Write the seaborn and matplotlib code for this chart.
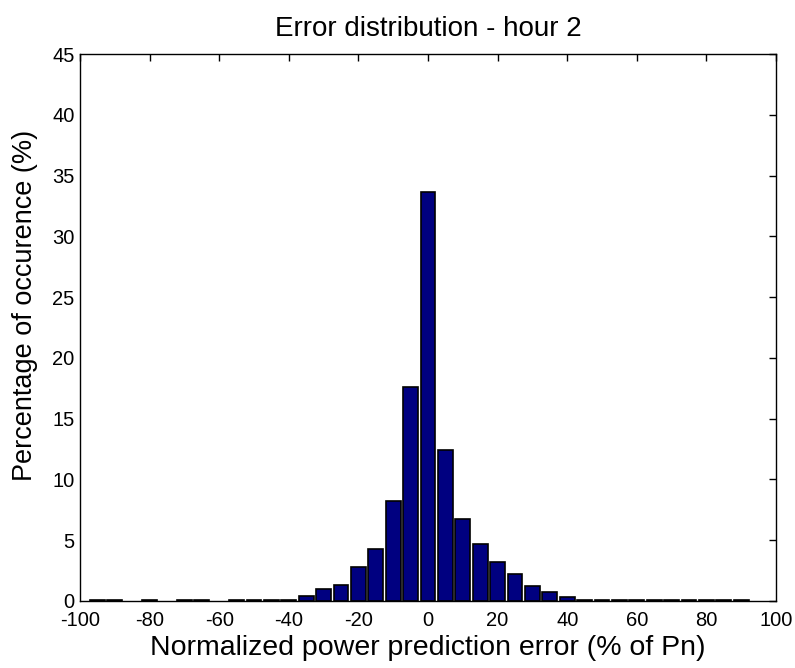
import matplotlib
matplotlib.use("Agg")
import matplotlib.pyplot as plt
import seaborn as sns
import pandas as pd

# Data
bin_centers = [-95, -90, -80, -70, -65, -55, -50, -45, -40, -35, -30, -25, -20, -15,
               -10, -5, 0, 5, 10, 15, 20, 25, 30, 35, 40, 45, 50, 55, 60, 65,
               70, 75, 80, 85, 90]
percentages = [0.08, 0.08, 0.08, 0.08, 0.08, 0.08, 0.08, 0.08, 0.08, 0.41, 0.96, 1.34, 2.82, 4.28,
               8.22, 17.57, 33.64, 12.45, 6.77, 4.66, 3.21, 2.19, 1.23, 0.71, 0.30, 0.06, 0.06, 0.06, 0.06, 0.06,
               0.06, 0.06, 0.06, 0.06, 0.06]
x_ticks = [-100, -80, -60, -40, -20, 0, 20, 40, 60, 80, 100]
y_ticks = [0, 5, 10, 15, 20, 25, 30, 35, 40, 45]

df = pd.DataFrame({"error": bin_centers, "pct": percentages})

sns.set_style("white")
plt.rcParams["font.family"] = ["Liberation Sans", "DejaVu Sans"]
plt.rcParams["text.color"] = "black"
plt.rcParams["axes.labelcolor"] = "black"

fig = plt.figure(figsize=(7.95, 6.68), dpi=100)
ax = fig.add_axes([0.1006, 0.1003, 0.8755, 0.8188])

sns.barplot(data=df, x="error", y="pct", native_scale=True, width=0.86,
            color="#000080", edgecolor="black", linewidth=1.2, saturation=1,
            errorbar=None, ax=ax)

ax.set_xlim(-100, 100)
ax.set_ylim(0, 45)
ax.set_xticks(x_ticks)
ax.set_yticks(y_ticks)
ax.set_xticklabels([str(t) for t in x_ticks])
ax.set_yticklabels([str(t) for t in y_ticks])
ax.tick_params(direction="in", length=5, width=1, top=True, right=True,
               labelsize=14.5, colors="black")
ax.tick_params(axis="x", pad=7)
ax.tick_params(axis="y", pad=4)
for s in ax.spines.values():
    s.set_visible(True)
    s.set_color("black")
    s.set_linewidth(1)

ax.set_xlabel("Normalized power prediction error (% of Pn)", fontsize=20.5, labelpad=4)
ax.set_ylabel("Percentage of occurence (%)", fontsize=19.5)
ax.yaxis.set_label_coords(-0.06, 0.54)
ax.set_title("Error distribution - hour 2", fontsize=20, pad=13, color="black")

fig.savefig("out.png", dpi=100)
